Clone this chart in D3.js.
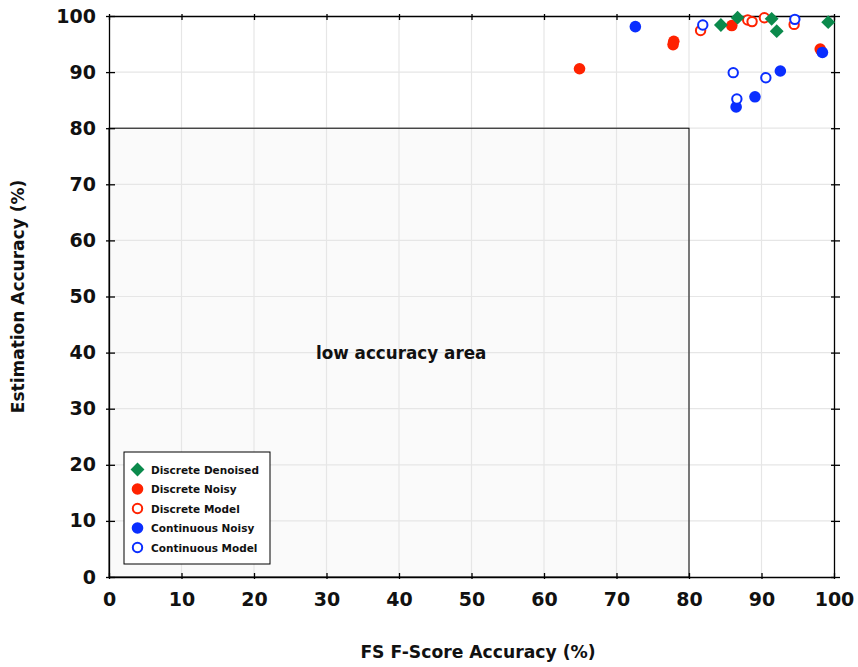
<!DOCTYPE html>
<html>
<head>
<meta charset="utf-8">
<script src="https://cdn.jsdelivr.net/npm/d3@7"></script>
<style>
  html, body { margin: 0; padding: 0; background: #fff; }
  svg { display: block; font-family: "DejaVu Sans", sans-serif; }
</style>
</head>
<body>
<svg id="chart" width="858" height="667"></svg>
<script>
// Tick values shared by both axes
const ticks = [0, 10, 20, 30, 40, 50, 60, 70, 80, 90, 100];

// Series: FS F-Score accuracy (x) and estimation accuracy (y), in percent
const discreteDenoisedX = [84.4, 86.7, 91.4, 92.1, 99.2];
const discreteDenoisedY = [98.4, 99.7, 99.5, 97.3, 98.9];

const discreteNoisyX = [64.9, 77.9, 77.8, 85.9, 98.1];
const discreteNoisyY = [90.6, 95.5, 94.9, 98.3, 94.1];

const discreteModelX = [81.6, 88.1, 88.7, 90.4, 94.5];
const discreteModelY = [97.4, 99.3, 99.0, 99.7, 98.5];

const continuousNoisyX = [72.6, 98.4, 92.6, 89.1, 86.5];
const continuousNoisyY = [98.1, 93.5, 90.2, 85.6, 83.8];

const continuousModelX = [81.9, 94.6, 86.1, 90.6, 86.6];
const continuousModelY = [98.4, 99.4, 89.9, 89.0, 85.2];

// Shaded region bounds
const lowAreaMax = [80, 80];
const lowAreaLabel = "low accuracy area";

const series = [
  { name: "Discrete Noisy",    xs: discreteNoisyX,    ys: discreteNoisyY,    color: "#ff2200", shape: "dot" },
  { name: "Discrete Model",    xs: discreteModelX,    ys: discreteModelY,    color: "#ff2200", shape: "ring" },
  { name: "Continuous Noisy",  xs: continuousNoisyX,  ys: continuousNoisyY,  color: "#0a2eff", shape: "dot" },
  { name: "Continuous Model",  xs: continuousModelX,  ys: continuousModelY,  color: "#0a2eff", shape: "ring" },
  { name: "Discrete Denoised", xs: discreteDenoisedX, ys: discreteDenoisedY, color: "#0b8a4c", shape: "diamond" }
];
const legendOrder = ["Discrete Denoised", "Discrete Noisy", "Discrete Model", "Continuous Noisy", "Continuous Model"];

const svg = d3.select("#chart");
const plotLeft = 109, plotRight = 834, plotTop = 16, plotBottom = 577;

const x = d3.scaleLinear().domain([0, 100]).range([plotLeft, plotRight]);
const y = d3.scaleLinear().domain([0, 100]).range([plotBottom, plotTop]);

// Low accuracy area background
svg.append("rect")
  .attr("x", x(0)).attr("y", y(lowAreaMax[1]))
  .attr("width", x(lowAreaMax[0]) - x(0))
  .attr("height", y(0) - y(lowAreaMax[1]))
  .attr("fill", "#fafafa");

// Grid
const grid = svg.append("g").attr("stroke", "#e6e6e6").attr("stroke-width", 1.2);
ticks.slice(1, -1).forEach(t => {
  grid.append("line").attr("x1", x(t)).attr("x2", x(t)).attr("y1", y(0)).attr("y2", y(100));
  grid.append("line").attr("x1", x(0)).attr("x2", x(100)).attr("y1", y(t)).attr("y2", y(t));
});

// Low accuracy area outline and label
svg.append("rect")
  .attr("x", x(0)).attr("y", y(lowAreaMax[1]))
  .attr("width", x(lowAreaMax[0]) - x(0))
  .attr("height", y(0) - y(lowAreaMax[1]))
  .attr("fill", "none").attr("stroke", "#000").attr("stroke-width", 1);

svg.append("text")
  .attr("x", x(40.3)).attr("y", y(40) + 6)
  .attr("text-anchor", "middle")
  .attr("font-size", 16.8).attr("font-weight", "bold")
  .attr("fill", "#111")
  .text(lowAreaLabel);

// Axes (bottom/left labelled, top/right mirrored ticks only)
function styleAxis(g) {
  g.select(".domain").attr("stroke", "#000").attr("stroke-width", 1.3);
  g.selectAll(".tick line").attr("stroke", "#000").attr("stroke-width", 1.3);
}

const xAxis = svg.append("g")
  .attr("transform", `translate(0,${plotBottom})`)
  .call(d3.axisBottom(x).tickValues(ticks).tickSizeInner(2).tickSizeOuter(0).tickPadding(14).tickFormat(d3.format("d")));
xAxis.selectAll(".tick line").attr("y1", -4);
xAxis.selectAll("text").attr("font-size", 19).attr("font-weight", "bold").attr("fill", "#111")
  .attr("font-family", "DejaVu Sans");
styleAxis(xAxis);

const yAxis = svg.append("g")
  .attr("transform", `translate(${plotLeft},0)`)
  .call(d3.axisLeft(y).tickValues(ticks).tickSizeInner(3).tickSizeOuter(0).tickPadding(10).tickFormat(d3.format("d")));
yAxis.selectAll(".tick line").attr("x1", 6);
yAxis.selectAll("text").attr("font-size", 19).attr("font-weight", "bold").attr("fill", "#111")
  .attr("font-family", "DejaVu Sans");
styleAxis(yAxis);

const xTop = svg.append("g")
  .attr("transform", `translate(0,${plotTop})`)
  .call(d3.axisTop(x).tickValues(ticks).tickSizeInner(2).tickSizeOuter(0).tickFormat(""));
xTop.selectAll(".tick line").attr("y1", 4);
styleAxis(xTop);

const yRight = svg.append("g")
  .attr("transform", `translate(${plotRight},0)`)
  .call(d3.axisRight(y).tickValues(ticks).tickSizeInner(6).tickSizeOuter(0).tickFormat(""));
yRight.selectAll(".tick line").attr("x1", -3);
styleAxis(yRight);

// Markers
function drawMarker(g, shape, color, cx, cy) {
  if (shape === "dot") {
    g.append("circle").attr("cx", cx).attr("cy", cy).attr("r", 5.8).attr("fill", color);
  } else if (shape === "ring") {
    g.append("circle").attr("cx", cx).attr("cy", cy).attr("r", 4.7)
      .attr("fill", "#fff").attr("stroke", color).attr("stroke-width", 2);
  } else {
    g.append("path")
      .attr("d", d3.symbol(d3.symbolSquare, 96)())
      .attr("transform", `translate(${cx},${cy}) rotate(45)`)
      .attr("fill", color);
  }
}

const points = svg.append("g");
series.forEach(s => {
  s.xs.forEach((xv, i) => drawMarker(points, s.shape, s.color, x(xv), y(s.ys[i])));
});

// Legend
const legend = svg.append("g").attr("transform", "translate(124,452)");
legend.append("rect").attr("width", 146).attr("height", 112)
  .attr("fill", "#fff").attr("stroke", "#000").attr("stroke-width", 1);
legendOrder.forEach((name, i) => {
  const s = series.find(d => d.name === name);
  const cy = 17.5 + i * 19.5;
  drawMarker(legend, s.shape, s.color, 13.5, cy);
  legend.append("text").attr("x", 27).attr("y", cy + 4)
    .attr("font-size", 10.5).attr("font-weight", "bold").attr("fill", "#111")
    .text(name);
});

// Axis titles
svg.append("text")
  .attr("x", 478).attr("y", 658)
  .attr("text-anchor", "middle")
  .attr("font-size", 17.2).attr("font-weight", "bold").attr("fill", "#111")
  .text("FS F-Score Accuracy (%)");

svg.append("text")
  .attr("transform", `translate(24,${(plotTop + plotBottom) / 2}) rotate(-90)`)
  .attr("text-anchor", "middle")
  .attr("font-size", 17).attr("font-weight", "bold").attr("fill", "#111")
  .text("Estimation Accuracy (%)");
</script>
</body>
</html>
